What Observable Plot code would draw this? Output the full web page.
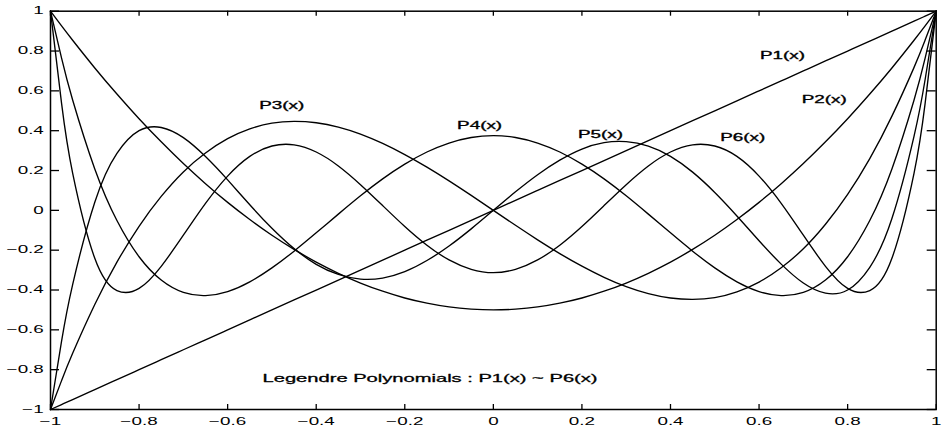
<!DOCTYPE html>
<html><head><meta charset="utf-8">
<script src="https://cdn.jsdelivr.net/npm/d3@7"></script>
<script src="https://cdn.jsdelivr.net/npm/@observablehq/plot@0.6"></script>
<style>body{margin:0;background:#fff} svg{display:block}</style>
</head><body>
<script>
const xs = [-1, -0.975, -0.95, -0.9, -0.85, -0.8, -0.75, -0.7, -0.65, -0.6, -0.55, -0.5, -0.45, -0.4, -0.35, -0.3, -0.25, -0.2, -0.15, -0.1, -0.05, 0, 0.05, 0.1, 0.15, 0.2, 0.25, 0.3, 0.35, 0.4, 0.45, 0.5, 0.55, 0.6, 0.65, 0.7, 0.75, 0.8, 0.85, 0.9, 0.95, 0.975, 1];
const p1 = [-1, -0.975, -0.95, -0.9, -0.85, -0.8, -0.75, -0.7, -0.65, -0.6, -0.55, -0.5, -0.45, -0.4, -0.35, -0.3, -0.25, -0.2, -0.15, -0.1, -0.05, 0, 0.05, 0.1, 0.15, 0.2, 0.25, 0.3, 0.35, 0.4, 0.45, 0.5, 0.55, 0.6, 0.65, 0.7, 0.75, 0.8, 0.85, 0.9, 0.95, 0.975, 1];
const p2 = [1, 0.926, 0.854, 0.715, 0.584, 0.46, 0.344, 0.235, 0.134, 0.04, -0.046, -0.125, -0.196, -0.26, -0.316, -0.365, -0.406, -0.44, -0.466, -0.485, -0.496, -0.5, -0.496, -0.485, -0.466, -0.44, -0.406, -0.365, -0.316, -0.26, -0.196, -0.125, -0.046, 0.04, 0.134, 0.235, 0.344, 0.46, 0.584, 0.715, 0.854, 0.926, 1];
const p3 = [-1, -0.855, -0.718, -0.473, -0.26, -0.08, 0.07, 0.193, 0.288, 0.36, 0.409, 0.438, 0.447, 0.44, 0.418, 0.383, 0.336, 0.28, 0.217, 0.148, 0.075, 0, -0.075, -0.148, -0.217, -0.28, -0.336, -0.383, -0.418, -0.44, -0.447, -0.438, -0.409, -0.36, -0.288, -0.193, -0.07, 0.08, 0.26, 0.473, 0.718, 0.855, 1];
const p4 = [1, 0.764, 0.554, 0.208, -0.051, -0.233, -0.35, -0.412, -0.428, -0.408, -0.359, -0.289, -0.205, -0.113, -0.019, 0.073, 0.158, 0.232, 0.293, 0.338, 0.366, 0.375, 0.366, 0.338, 0.293, 0.232, 0.158, 0.073, -0.019, -0.113, -0.205, -0.289, -0.359, -0.408, -0.428, -0.412, -0.35, -0.233, -0.051, 0.208, 0.554, 0.764, 1];
const p5 = [-1, -0.657, -0.373, 0.041, 0.286, 0.4, 0.416, 0.365, 0.27, 0.153, 0.028, -0.09, -0.192, -0.271, -0.322, -0.345, -0.34, -0.308, -0.252, -0.179, -0.093, 0, 0.093, 0.179, 0.252, 0.308, 0.34, 0.345, 0.322, 0.271, 0.192, 0.09, -0.028, -0.153, -0.27, -0.365, -0.416, -0.4, -0.286, -0.041, 0.373, 0.657, 1];
const p6 = [1, 0.537, 0.187, -0.241, -0.403, -0.392, -0.281, -0.125, 0.035, 0.172, 0.271, 0.323, 0.329, 0.293, 0.223, 0.129, 0.024, -0.081, -0.175, -0.249, -0.296, -0.313, -0.296, -0.249, -0.175, -0.081, 0.024, 0.129, 0.223, 0.293, 0.329, 0.323, 0.271, 0.172, 0.035, -0.125, -0.281, -0.392, -0.403, -0.241, 0.187, 0.537, 1];

const seriesNames = ["P1(x)", "P2(x)", "P3(x)", "P4(x)", "P5(x)", "P6(x)"];
const labelX = [0.653, 0.747, -0.478, -0.031, 0.242, 0.563];
const labelY = [0.778, 0.557, 0.526, 0.426, 0.381, 0.366];
const titleText = "Legendre Polynomials : P1(x) ~ P6(x)";
const titleX = -0.143;
const titleY = -0.844;

const xTicks = [-1, -0.8, -0.6, -0.4, -0.2, 0, 0.2, 0.4, 0.6, 0.8, 1];
const xTickLabels = ["\u22121", "\u22120.8", "\u22120.6", "\u22120.4", "\u22120.2", "0", "0.2", "0.4", "0.6", "0.8", "1"];
const yTicks = [-1, -0.8, -0.6, -0.4, -0.2, 0, 0.2, 0.4, 0.6, 0.8, 1];
const yTickLabels = ["\u22121", "\u22120.8", "\u22120.6", "\u22120.4", "\u22120.2", "0", "0.2", "0.4", "0.6", "0.8", "1"];

const seriesValues = [p1, p2, p3, p4, p5, p6];
const table = [];
seriesValues.forEach((arr, j) => arr.forEach((v, i) => table.push({x: xs[i], y: v, name: seriesNames[j]})));
const labels = seriesNames.map((n, i) => ({name: n, x: labelX[i], y: labelY[i]}));
const xFmt = new Map(xTicks.map((t, i) => [t, xTickLabels[i]]));
const yFmt = new Map(yTicks.map((t, i) => [t, yTickLabels[i]]));

const W = 943, H = 432, mL = 50, mR = 7.3, mT = 10.7, mB = 23;
const plotW = W - mL - mR, plotH = H - mT - mB;
const xTickLen = 5, yTickLen = 9;

const font = "'Liberation Sans', Arial, Helvetica, sans-serif";
const svg = Plot.plot({
  width: W,
  height: H,
  marginLeft: mL,
  marginRight: mR,
  marginTop: mT,
  marginBottom: mB,
  style: {fontFamily: font, fontSize: "10px", background: "#fff", color: "#000"},
  x: {domain: [-1, 1], label: null},
  y: {domain: [-1, 1], label: null},
  marks: [
    Plot.line(table, {x: "x", y: "y", z: "name", curve: "natural", stroke: "#000", strokeWidth: 1.35}),
    Plot.axisX(xTicks, {anchor: "bottom", tickSize: 0, tickPadding: 8, tickFormat: d => xFmt.get(d), label: null, stroke: "#000", strokeWidth: 0.3}),
    Plot.axisY(yTicks, {anchor: "left", tickSize: 0, tickPadding: 6.7, tickFormat: d => yFmt.get(d), label: null, stroke: "#000", strokeWidth: 0.3}),
    Plot.tickX(xTicks, {x: d => d, insetTop: plotH - xTickLen, stroke: "#000", strokeWidth: 1.3}),
    Plot.tickX(xTicks, {x: d => d, insetBottom: plotH - xTickLen, stroke: "#000", strokeWidth: 1.3}),
    Plot.tickY(yTicks, {y: d => d, insetRight: plotW - yTickLen, stroke: "#000", strokeWidth: 1.3}),
    Plot.tickY(yTicks, {y: d => d, insetLeft: plotW - yTickLen, stroke: "#000", strokeWidth: 1.3}),
    Plot.frame({stroke: "#000", strokeWidth: 1.5}),
    Plot.text(labels, {x: "x", y: "y", text: "name", fontSize: 11.5, fill: "#000", stroke: "#000", strokeWidth: 0.35}),
    Plot.text([titleText], {x: () => titleX, y: () => titleY, text: d => d, fontSize: 11.5, fill: "#000", stroke: "#000", strokeWidth: 0.3})
  ]
});
document.body.appendChild(svg);

// horizontally stretch the lettering as in the reference
svg.querySelectorAll("text").forEach(t => {
  const g = t.closest("g[aria-label]");
  const lab = g ? g.getAttribute("aria-label") : "";
  let k = 1.64;
  if (lab.includes("tick label")) k = 1.88;
  else if (t.textContent.startsWith("Legendre")) k = 1.75;
  const L = t.getComputedTextLength();
  if (L > 0) {
    t.setAttribute("textLength", (L * k).toFixed(2));
    t.setAttribute("lengthAdjust", "spacingAndGlyphs");
  }
});
</script>
</body></html>
